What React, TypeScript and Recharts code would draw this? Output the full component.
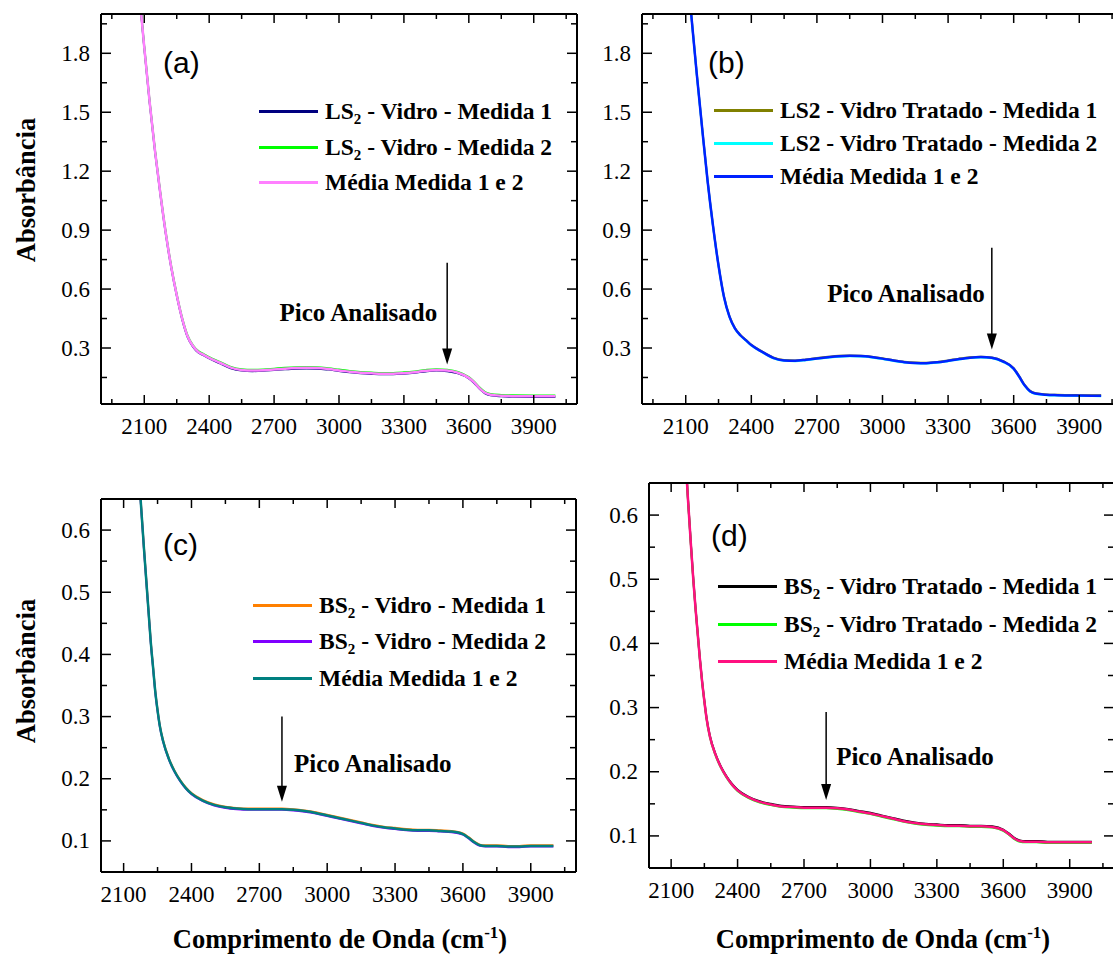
import React from 'react';
import { LineChart, Line, XAxis, YAxis, Legend, ReferenceLine } from 'recharts';

const SERIF = '"Liberation Serif"';
const SANS = '"Liberation Sans"';

// ---------- Panel (a) ----------
const WN_A = [2080, 2100, 2125, 2150, 2175, 2200, 2225, 2250, 2275, 2300, 2325, 2350, 2375, 2400, 2450, 2500, 2550, 2600, 2650, 2700, 2750, 2800, 2850, 2900, 2950, 3000, 3050, 3100, 3150, 3200, 3250, 3300, 3350, 3400, 3450, 3500, 3550, 3600, 3625, 3650, 3675, 3700, 3750, 3800, 3900, 4000];
const M1_A = [2.067, 1.827, 1.547, 1.297, 1.077, 0.877, 0.707, 0.567, 0.447, 0.357, 0.307, 0.277, 0.262, 0.247, 0.222, 0.197, 0.185, 0.182, 0.184, 0.188, 0.192, 0.195, 0.196, 0.195, 0.190, 0.183, 0.176, 0.171, 0.168, 0.166, 0.166, 0.169, 0.174, 0.181, 0.185, 0.182, 0.171, 0.145, 0.122, 0.092, 0.069, 0.059, 0.054, 0.052, 0.051, 0.051];
const M2_A = [2.074, 1.834, 1.554, 1.304, 1.084, 0.884, 0.714, 0.574, 0.454, 0.364, 0.314, 0.284, 0.269, 0.254, 0.229, 0.204, 0.192, 0.189, 0.191, 0.195, 0.199, 0.202, 0.203, 0.202, 0.197, 0.190, 0.183, 0.178, 0.175, 0.173, 0.173, 0.176, 0.181, 0.188, 0.192, 0.189, 0.178, 0.152, 0.129, 0.099, 0.076, 0.066, 0.061, 0.059, 0.058, 0.058];
const AVG_A = [2.07, 1.83, 1.55, 1.30, 1.08, 0.88, 0.71, 0.57, 0.45, 0.36, 0.31, 0.28, 0.265, 0.25, 0.225, 0.20, 0.188, 0.185, 0.187, 0.191, 0.195, 0.198, 0.199, 0.198, 0.193, 0.186, 0.179, 0.174, 0.171, 0.169, 0.169, 0.172, 0.177, 0.184, 0.188, 0.185, 0.174, 0.148, 0.125, 0.095, 0.072, 0.062, 0.057, 0.055, 0.054, 0.054];
const NAMES_A = ['LS_2 - Vidro - Medida 1', 'LS_2 - Vidro - Medida 2', 'Média Medida 1 e 2'];
const COLORS_A = ['#000080', '#00FF00', '#FF80FF'];

// ---------- Panel (b) ----------
const WN_B = [2100, 2125, 2150, 2175, 2200, 2225, 2250, 2275, 2300, 2325, 2350, 2375, 2400, 2450, 2500, 2550, 2600, 2650, 2700, 2750, 2800, 2850, 2900, 2950, 3000, 3050, 3100, 3150, 3200, 3250, 3300, 3350, 3400, 3450, 3500, 3550, 3600, 3625, 3650, 3675, 3700, 3750, 3800, 3900, 4000];
const M1_B = [2.302, 2.002, 1.702, 1.422, 1.152, 0.922, 0.722, 0.562, 0.462, 0.402, 0.367, 0.342, 0.317, 0.282, 0.252, 0.239, 0.237, 0.242, 0.249, 0.255, 0.26, 0.262, 0.261, 0.256, 0.248, 0.238, 0.23, 0.226, 0.225, 0.229, 0.237, 0.246, 0.253, 0.256, 0.252, 0.234, 0.197, 0.157, 0.112, 0.082, 0.07, 0.064, 0.062, 0.06, 0.059];
const M2_B = [2.298, 1.998, 1.698, 1.418, 1.148, 0.918, 0.718, 0.558, 0.458, 0.398, 0.363, 0.338, 0.313, 0.278, 0.248, 0.235, 0.233, 0.238, 0.245, 0.251, 0.256, 0.258, 0.257, 0.252, 0.244, 0.234, 0.226, 0.222, 0.221, 0.225, 0.233, 0.242, 0.249, 0.252, 0.248, 0.23, 0.193, 0.153, 0.108, 0.078, 0.066, 0.06, 0.058, 0.056, 0.055];
const AVG_B = [2.30, 2.00, 1.70, 1.42, 1.15, 0.92, 0.72, 0.56, 0.46, 0.40, 0.365, 0.34, 0.315, 0.28, 0.25, 0.237, 0.235, 0.24, 0.247, 0.253, 0.258, 0.26, 0.259, 0.254, 0.246, 0.236, 0.228, 0.224, 0.223, 0.227, 0.235, 0.244, 0.251, 0.254, 0.25, 0.232, 0.195, 0.155, 0.11, 0.08, 0.068, 0.062, 0.06, 0.058, 0.057];
const NAMES_B = ['LS2 - Vidro Tratado - Medida 1', 'LS2 - Vidro Tratado - Medida 2', 'Média Medida 1 e 2'];
const COLORS_B = ['#808000', '#00FFFF', '#0022FF'];

// ---------- Panels (c) and (d) share a wavenumber grid ----------
const WN_CD = [2160, 2175, 2190, 2200, 2210, 2220, 2230, 2240, 2250, 2260, 2275, 2300, 2325, 2350, 2375, 2400, 2450, 2500, 2550, 2600, 2650, 2700, 2750, 2800, 2850, 2900, 2950, 3000, 3050, 3100, 3150, 3200, 3250, 3300, 3350, 3400, 3450, 3500, 3550, 3600, 3625, 3650, 3675, 3700, 3750, 3800, 3850, 3900, 3950, 4000];

const M1_C = [0.741, 0.651, 0.571, 0.521, 0.471, 0.421, 0.381, 0.341, 0.311, 0.286, 0.261, 0.233, 0.213, 0.198, 0.186, 0.177, 0.166, 0.159, 0.155, 0.153, 0.152, 0.152, 0.152, 0.152, 0.151, 0.149, 0.146, 0.142, 0.138, 0.134, 0.130, 0.126, 0.123, 0.121, 0.119, 0.118, 0.118, 0.117, 0.116, 0.112, 0.106, 0.099, 0.094, 0.093, 0.093, 0.092, 0.092, 0.093, 0.093, 0.093];
const M2_C = [0.739, 0.649, 0.569, 0.519, 0.469, 0.419, 0.379, 0.339, 0.309, 0.284, 0.259, 0.231, 0.211, 0.196, 0.184, 0.175, 0.164, 0.157, 0.153, 0.151, 0.150, 0.150, 0.150, 0.150, 0.149, 0.147, 0.144, 0.140, 0.136, 0.132, 0.128, 0.124, 0.121, 0.119, 0.117, 0.116, 0.116, 0.115, 0.114, 0.110, 0.104, 0.097, 0.092, 0.091, 0.091, 0.090, 0.090, 0.091, 0.091, 0.091];
const AVG_C = [0.74, 0.65, 0.57, 0.52, 0.47, 0.42, 0.38, 0.34, 0.31, 0.285, 0.26, 0.232, 0.212, 0.197, 0.185, 0.176, 0.165, 0.158, 0.154, 0.152, 0.151, 0.151, 0.151, 0.151, 0.150, 0.148, 0.145, 0.141, 0.137, 0.133, 0.129, 0.125, 0.122, 0.120, 0.118, 0.117, 0.117, 0.116, 0.115, 0.111, 0.105, 0.098, 0.093, 0.092, 0.092, 0.091, 0.091, 0.092, 0.092, 0.092];
const NAMES_C = ['BS_2 - Vidro - Medida 1', 'BS_2 - Vidro - Medida 2', 'Média Medida 1 e 2'];
const COLORS_C = ['#FF8000', '#8000FF', '#008080'];

const M1_D = [0.721, 0.631, 0.551, 0.501, 0.456, 0.416, 0.376, 0.341, 0.311, 0.284, 0.256, 0.228, 0.208, 0.193, 0.181, 0.172, 0.161, 0.154, 0.150, 0.147, 0.146, 0.145, 0.145, 0.145, 0.144, 0.142, 0.139, 0.136, 0.132, 0.128, 0.124, 0.121, 0.119, 0.118, 0.117, 0.117, 0.116, 0.116, 0.115, 0.110, 0.104, 0.097, 0.093, 0.092, 0.092, 0.091, 0.091, 0.091, 0.091, 0.091];
const M2_D = [0.719, 0.629, 0.549, 0.499, 0.454, 0.414, 0.374, 0.339, 0.309, 0.282, 0.254, 0.226, 0.206, 0.191, 0.179, 0.170, 0.159, 0.152, 0.148, 0.145, 0.144, 0.143, 0.143, 0.143, 0.142, 0.140, 0.137, 0.134, 0.130, 0.126, 0.122, 0.119, 0.117, 0.116, 0.115, 0.115, 0.114, 0.114, 0.113, 0.108, 0.102, 0.095, 0.091, 0.090, 0.090, 0.089, 0.089, 0.089, 0.089, 0.089];
const AVG_D = [0.72, 0.63, 0.55, 0.50, 0.455, 0.415, 0.375, 0.34, 0.31, 0.283, 0.255, 0.227, 0.207, 0.192, 0.18, 0.171, 0.16, 0.153, 0.149, 0.146, 0.145, 0.144, 0.144, 0.144, 0.143, 0.141, 0.138, 0.135, 0.131, 0.127, 0.123, 0.12, 0.118, 0.117, 0.116, 0.116, 0.115, 0.115, 0.114, 0.109, 0.103, 0.096, 0.092, 0.091, 0.091, 0.09, 0.09, 0.09, 0.09, 0.09];
const NAMES_D = ['BS_2 - Vidro Tratado - Medida 1', 'BS_2 - Vidro Tratado - Medida 2', 'Média Medida 1 e 2'];
const COLORS_D = ['#000000', '#00FF00', '#FF1080'];

// ---------- Axes ticks ----------
const X_TICKS_AB = [1950, 2100, 2250, 2400, 2550, 2700, 2850, 3000, 3150, 3300, 3450, 3600, 3750, 3900, 4050];
const X_TICKS_CD = [2100, 2250, 2400, 2550, 2700, 2850, 3000, 3150, 3300, 3450, 3600, 3750, 3900, 4050];
const Y_TICKS_AB = [0.15, 0.3, 0.45, 0.6, 0.75, 0.9, 1.05, 1.2, 1.35, 1.5, 1.65, 1.8, 1.95];
const Y_TICKS_CD = [0.1, 0.15, 0.2, 0.25, 0.3, 0.35, 0.4, 0.45, 0.5, 0.55, 0.6];
const X_DOMAIN_AB: [number, number] = [1900, 4100];
const X_DOMAIN_CD: [number, number] = [2000, 4100];
const Y_DOMAIN_AB: [number, number] = [0.015, 2.0];
const Y_DOMAIN_CD: [number, number] = [0.05, 0.65];

// Peak annotations (data units): x, top of arrow, tip of arrow
const PEAK_A = [3500, 0.734, 0.216];
const PEAK_B = [3500, 0.81, 0.292];
const PEAK_C = [2800, 0.30, 0.163];
const PEAK_D = [2800, 0.293, 0.156];
const PEAK_TEXT = 'Pico Analisado';

const isStep = (v: number, base: number, step: number) => {
  const r = (v - base) / step;
  return Math.abs(r - Math.round(r)) < 1e-6;
};
const isMajorX = (v: number) => isStep(v, 2100, 300);

const TICK_FONT = 23;
const MAJ = 9;
const MIN = 5;

const bottomTick = (margin: number) => (p: any) => {
  const v = p.payload.value;
  const major = isMajorX(v);
  const ay = p.y - margin;
  return (
    <g>
      <line x1={p.x} x2={p.x} y1={ay} y2={ay - (major ? MAJ : MIN)} stroke="#000" strokeWidth={1.5} />
      {major && (
        <text x={p.x} y={p.y} textAnchor="middle" fontFamily={SERIF} fontSize={TICK_FONT} fill="#000">
          {v}
        </text>
      )}
    </g>
  );
};
const topTick = () => (p: any) => {
  const v = p.payload.value;
  const major = isMajorX(v);
  return <line x1={p.x} x2={p.x} y1={p.y} y2={p.y + (major ? MAJ : MIN)} stroke="#000" strokeWidth={1.5} />;
};
const leftTick = (margin: number, step: number) => (p: any) => {
  const v = p.payload.value;
  const major = isStep(v, 0, step);
  const ax = p.x + margin;
  return (
    <g>
      <line x1={ax} x2={ax + (major ? MAJ + 1 : MIN + 1)} y1={p.y} y2={p.y} stroke="#000" strokeWidth={1.5} />
      {major && (
        <text x={p.x} y={p.y} textAnchor="end" dominantBaseline="central" fontFamily={SERIF} fontSize={TICK_FONT} fill="#000">
          {v.toFixed(1)}
        </text>
      )}
    </g>
  );
};
const rightTick = (step: number) => (p: any) => {
  const v = p.payload.value;
  const major = isStep(v, 0, step);
  return <line x1={p.x} x2={p.x - (major ? MAJ + 1 : MIN + 1)} y1={p.y} y2={p.y} stroke="#000" strokeWidth={1.5} />;
};

const renderName = (s: string) => {
  const idx = s.indexOf('_2');
  if (idx < 0) return <>{s}</>;
  return (
    <>
      {s.slice(0, idx)}
      <span style={{ fontSize: 15, position: 'relative', top: 5 }}>2</span>
      {s.slice(idx + 2)}
    </>
  );
};

const legendContent = (rowH: number) => (props: any) => {
  const payload = props.payload || [];
  return (
    <div style={{ fontFamily: SERIF, fontWeight: 700, fontSize: 23.5, color: '#000', lineHeight: 1 }}>
      {payload.map((it: any, i: number) => (
        <div key={i} style={{ display: 'flex', alignItems: 'center', height: rowH, whiteSpace: 'nowrap' }}>
          <span style={{ display: 'inline-block', width: 59, height: 3, background: it.color, marginRight: 7 }} />
          <span>{renderName(String(it.value))}</span>
        </div>
      ))}
    </div>
  );
};

const arrowShape = (side: 'left' | 'right', gap: number, dy: number) => (p: any) => {
  const { x1, y1, x2, y2 } = p;
  const head = 16;
  const hw = 5;
  const tx = side === 'left' ? x1 - gap : x1 + gap;
  return (
    <g>
      <line x1={x1} y1={y1} x2={x2} y2={y2 - head + 1} stroke="#000" strokeWidth={1.5} />
      <polygon points={`${x2 - hw},${y2 - head} ${x2 + hw},${y2 - head} ${x2},${y2}`} fill="#000" />
      <text x={tx} y={y1 + dy} textAnchor={side === 'left' ? 'end' : 'start'} dominantBaseline="central" fontFamily={SERIF} fontWeight={700} fontSize={25} fill="#000">
        {PEAK_TEXT}
      </text>
    </g>
  );
};

type PanelCfg = {
  left: number; top: number; width: number; height: number;
  margin: { top: number; right: number; bottom: number; left: number };
  yW: number; xH: number;
  xDomain: [number, number]; yDomain: [number, number];
  xTicks: number[]; yTicks: number[]; yStep: number;
  wn: number[]; m1: number[]; m2: number[]; avg: number[];
  names: string[]; colors: string[];
  legend: { left: number; top: number; rowH: number };
  peak: number[]; peakSide: 'left' | 'right'; peakGap: number; peakDy: number;
};

const Panel = (c: PanelCfg) => {
  const data = c.wn.map((w, i) => ({ w, m1: c.m1[i], m2: c.m2[i], avg: c.avg[i] }));
  const axisLine = { stroke: '#000', strokeWidth: 2 };
  return (
    <div style={{ position: 'absolute', left: c.left, top: c.top }}>
      <LineChart width={c.width} height={c.height} data={data} margin={c.margin}>
        <XAxis dataKey="w" type="number" domain={c.xDomain} ticks={c.xTicks} allowDataOverflow interval={0}
          height={c.xH} tickSize={0} tickMargin={30} tickLine={false} axisLine={axisLine} tick={bottomTick(30)} />
        <XAxis xAxisId="top" orientation="top" dataKey="w" type="number" domain={c.xDomain} ticks={c.xTicks} allowDataOverflow interval={0}
          height={1} tickSize={0} tickMargin={0} tickLine={false} axisLine={axisLine} tick={topTick()} />
        <YAxis type="number" domain={c.yDomain} ticks={c.yTicks} allowDataOverflow interval={0}
          width={c.yW} tickSize={0} tickMargin={11} tickLine={false} axisLine={axisLine} tick={leftTick(11, c.yStep)} />
        <YAxis yAxisId="right" orientation="right" type="number" domain={c.yDomain} ticks={c.yTicks} allowDataOverflow interval={0}
          width={1} tickSize={0} tickMargin={0} tickLine={false} axisLine={axisLine} tick={rightTick(c.yStep)} />
        <Legend layout="vertical" align="center" verticalAlign="middle" content={legendContent(c.legend.rowH)}
          wrapperStyle={{ left: c.legend.left, top: c.legend.top, width: 'auto', height: 'auto', margin: 0 }} />
        <Line type="monotone" dataKey="m1" name={c.names[0]} stroke={c.colors[0]} strokeWidth={2} dot={false} isAnimationActive={false} />
        <Line type="monotone" dataKey="m2" name={c.names[1]} stroke={c.colors[1]} strokeWidth={2} dot={false} isAnimationActive={false} />
        <Line type="monotone" dataKey="avg" name={c.names[2]} stroke={c.colors[2]} strokeWidth={2.5} dot={false} isAnimationActive={false} />
        <ReferenceLine segment={[{ x: c.peak[0], y: c.peak[1] }, { x: c.peak[0], y: c.peak[2] }]} stroke="#000"
          shape={arrowShape(c.peakSide, c.peakGap, c.peakDy)} />
      </LineChart>
    </div>
  );
};

const yTitle = (cx: number, cy: number) => (
  <text x={cx} y={cy} transform={`rotate(-90 ${cx} ${cy})`} textAnchor="middle" dominantBaseline="central"
    fontFamily={SERIF} fontWeight={700} fontSize={26.5} fill="#000">Absorbância</text>
);
const xTitle = (cx: number, by: number) => (
  <text x={cx} y={by} textAnchor="middle" fontFamily={SERIF} fontWeight={700} fontSize={26.5} fill="#000">
    Comprimento de Onda (cm<tspan fontSize={17} dy={-10}>-1</tspan><tspan dy={10}>)</tspan>
  </text>
);
const panelLetter = (x: number, cy: number, s: string) => (
  <text x={x} y={cy} dominantBaseline="central" fontFamily={SANS} fontSize={30} fill="#000">{s}</text>
);

export default function App() {
  return (
    <div style={{ position: 'absolute', left: 0, top: 0, width: 1113, height: 957, overflow: 'hidden', background: '#fff' }}>
      <Panel left={0} top={0} width={580} height={470} margin={{ top: 13, right: 2, bottom: 0, left: 0 }} yW={101} xH={66}
        xDomain={X_DOMAIN_AB} yDomain={Y_DOMAIN_AB} xTicks={X_TICKS_AB} yTicks={Y_TICKS_AB} yStep={0.3}
        wn={WN_A} m1={M1_A} m2={M2_A} avg={AVG_A} names={NAMES_A} colors={COLORS_A}
        legend={{ left: 259, top: 94, rowH: 35.5 }} peak={PEAK_A} peakSide="left" peakGap={10} peakDy={50} />
      <Panel left={580} top={0} width={560} height={470} margin={{ top: 13, right: 16, bottom: 0, left: 0 }} yW={62} xH={66}
        xDomain={X_DOMAIN_AB} yDomain={Y_DOMAIN_AB} xTicks={X_TICKS_AB} yTicks={Y_TICKS_AB} yStep={0.3}
        wn={WN_B} m1={M1_B} m2={M2_B} avg={AVG_B} names={NAMES_B} colors={COLORS_B}
        legend={{ left: 134, top: 94, rowH: 33 }} peak={PEAK_B} peakSide="left" peakGap={7} peakDy={46} />
      <Panel left={0} top={470} width={580} height={487} margin={{ top: 28, right: 3, bottom: 0, left: 0 }} yW={101} xH={85}
        xDomain={X_DOMAIN_CD} yDomain={Y_DOMAIN_CD} xTicks={X_TICKS_CD} yTicks={Y_TICKS_CD} yStep={0.1}
        wn={WN_CD} m1={M1_C} m2={M2_C} avg={AVG_C} names={NAMES_C} colors={COLORS_C}
        legend={{ left: 253, top: 117, rowH: 36.5 }} peak={PEAK_C} peakSide="right" peakGap={12} peakDy={47} />
      <Panel left={580} top={470} width={560} height={487} margin={{ top: 12, right: 25, bottom: 0, left: 0 }} yW={69} xH={89}
        xDomain={X_DOMAIN_CD} yDomain={Y_DOMAIN_CD} xTicks={X_TICKS_CD} yTicks={Y_TICKS_CD} yStep={0.1}
        wn={WN_CD} m1={M1_D} m2={M2_D} avg={AVG_D} names={NAMES_D} colors={COLORS_D}
        legend={{ left: 138, top: 98, rowH: 37.5 }} peak={PEAK_D} peakSide="right" peakGap={10} peakDy={44} />
      <svg width={1113} height={957} style={{ position: 'absolute', left: 0, top: 0, pointerEvents: 'none' }}>
        {yTitle(26, 190)}
        {yTitle(26, 671)}
        {xTitle(340, 948)}
        {xTitle(883, 948)}
        {panelLetter(163, 62, '(a)')}
        {panelLetter(708, 62, '(b)')}
        {panelLetter(163, 544, '(c)')}
        {panelLetter(711, 535, '(d)')}
      </svg>
    </div>
  );
}
